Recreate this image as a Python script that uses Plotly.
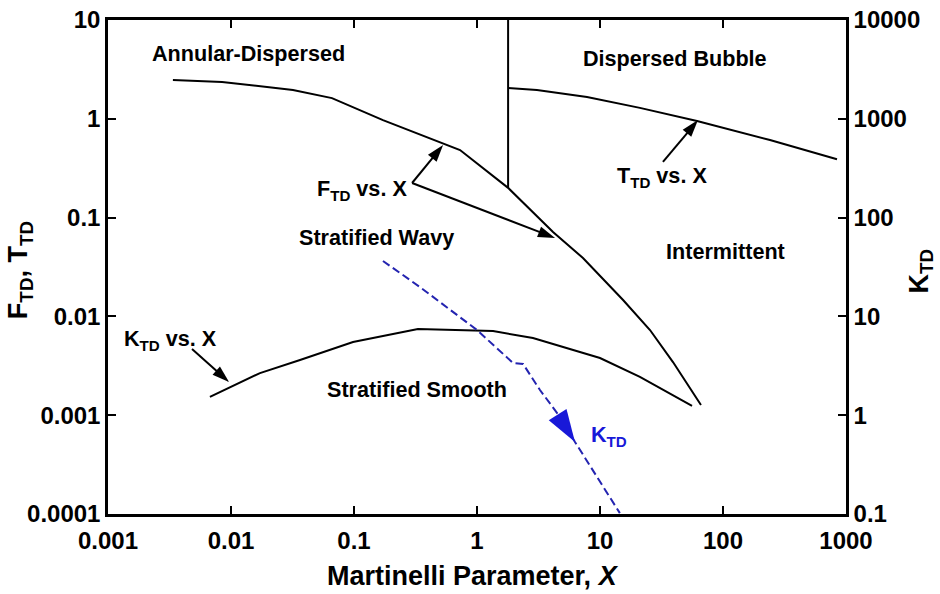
import math
import plotly.graph_objects as go

# ---- data ----
ftd_x = [0.00337, 0.00846, 0.0319, 0.0662, 0.172, 0.53, 0.728, 1.79, 4.15, 7.27, 15.4, 25.5, 39.2, 66.2]
ftd_y = [2.47, 2.36, 1.96, 1.62, 0.97, 0.569, 0.483, 0.200, 0.0714, 0.039, 0.01466, 0.00728, 0.00345, 0.00127]

ttd_x = [1.79, 3.07, 7.84, 21.1, 61.5, 241, 845]
ttd_y = [2.05, 1.96, 1.66, 1.29, 0.95, 0.61, 0.39]

ktd_x = [0.00674, 0.0172, 0.0364, 0.0982, 0.331, 1.35, 2.85, 10.0, 21.1, 56.0]
ktd_y = [1.53, 2.67, 3.62, 5.51, 7.45, 7.11, 6.04, 3.79, 2.44, 1.24]

kdash_x = [0.172, 0.344, 1.0, 1.96, 2.37, 3.25, 4.73, 6.26, 14.5]
kdash_y = [36.4, 19.8, 7.28, 3.38, 3.30, 1.80, 0.96, 0.536, 0.102]

boundary_x = [1.79, 1.79]
boundary_y = [0.2, 10]

x_ticks = [0.001, 0.01, 0.1, 1, 10, 100, 1000]
x_ticktext = ["0.001", "0.01", "0.1", "1", "10", "100", "1000"]
y_ticks = [0.0001, 0.001, 0.01, 0.1, 1, 10]
y_ticktext = ["0.0001", "0.001", "0.01", "0.1", "1", "10"]
y2_ticks = [0.1, 1, 10, 100, 1000, 10000]
y2_ticktext = ["0.1", "1", "10", "100", "1000", "10000"]

FONT = "Liberation Sans, Arial, sans-serif"
BLUE_LINE = "#2424b0"
BLUE = "#1818d8"
L = math.log10

fig = go.Figure()
line_style = dict(color="black", width=2)
fig.add_trace(go.Scatter(x=ftd_x, y=ftd_y, mode="lines", line=line_style, showlegend=False))
fig.add_trace(go.Scatter(x=ttd_x, y=ttd_y, mode="lines", line=line_style, showlegend=False))
fig.add_trace(go.Scatter(x=boundary_x, y=boundary_y, mode="lines", line=line_style, showlegend=False))
fig.add_trace(go.Scatter(x=ktd_x, y=ktd_y, mode="lines", line=line_style, yaxis="y2", showlegend=False))
fig.add_trace(go.Scatter(x=kdash_x, y=kdash_y, mode="lines",
                         line=dict(color=BLUE_LINE, width=2, dash="8px,4px"),
                         yaxis="y2", showlegend=False))

# pointer arrows (tail -> tip), drawn as short lines ending in an arrow marker
def arrow(x0, y0, x1, y1, color="black", head=18, width=2, yaxis="y", draw_line=True):
    fig.add_trace(go.Scatter(
        x=[x0, x1], y=[y0, y1], yaxis=yaxis, showlegend=False, hoverinfo="skip",
        mode="lines+markers" if draw_line else "markers",
        line=dict(color=color, width=width),
        marker=dict(symbol="arrow", size=[0, head], angleref="previous", color=color,
                    opacity=1, line=dict(width=0))))

arrow(0.2966, 0.224, 0.53, 0.543)
arrow(0.2966, 0.224, 4.31, 0.0622)
arrow(32.5, 0.366, 62.6, 0.97)
arrow(0.00482, 0.00468, 0.00964, 0.00217)
arrow(4.15, 1.20, 6.26, 0.536, color=BLUE, head=34, yaxis="y2", draw_line=False)

ann = []
def label(text, x, y, color="black", size=21.6, yref="y"):
    ann.append(dict(text="<b>" + text + "</b>", x=L(x), y=L(y), xref="x", yref=yref, showarrow=False,
                    font=dict(family=FONT, size=size, color=color), xanchor="center", yanchor="middle"))

label("Annular-Dispersed", 0.014, 4.63)
label("Dispersed Bubble", 40.7, 4.12)
label("F<sub>TD</sub> vs. X", 0.116, 0.19)
label("T<sub>TD</sub> vs. X", 31.9, 0.255)
label("Stratified Wavy", 0.151, 0.0622)
label("Intermittent", 104, 0.0449)
label("K<sub>TD</sub> vs. X", 0.00325, 0.0058)
label("Stratified Smooth", 0.325, 0.00184)
label("K<sub>TD</sub>", 11.8, 0.62, color=BLUE, yref="y2")

# axis titles
ann.append(dict(text="<b>Martinelli Parameter, <i>X</i></b>", xref="paper", yref="paper",
                x=0.495, y=-0.1255, showarrow=False, xanchor="center", yanchor="middle",
                font=dict(family=FONT, size=27, color="black")))
ann.append(dict(text="<b>F<sub>TD</sub>, T<sub>TD</sub></b>", xref="paper", yref="paper",
                x=-0.119, y=0.494, textangle=-90, showarrow=False, xanchor="center", yanchor="middle",
                font=dict(family=FONT, size=27, color="black")))
ann.append(dict(text="<b>K<sub>TD</sub></b>", xref="paper", yref="paper",
                x=1.101, y=0.492, textangle=-90, showarrow=False, xanchor="center", yanchor="middle",
                font=dict(family=FONT, size=27, color="black")))

axis_common = dict(type="log", ticks="inside", ticklen=8, tickwidth=1.5, tickcolor="black",
                   showline=True, linewidth=2.5, linecolor="black", showgrid=False, zeroline=False,
                   automargin=False,
                   tickfont=dict(family=FONT, size=24, color="black", weight="bold"))

fig.update_layout(
    width=940, height=594,
    margin=dict(l=108, r=94, t=20, b=80),
    plot_bgcolor="white", paper_bgcolor="white",
    xaxis=dict(axis_common, range=[-3, 3], tickvals=x_ticks, ticktext=x_ticktext, mirror="ticks",
               ticklabelstandoff=3),
    yaxis=dict(axis_common, range=[-4, 1], tickvals=y_ticks, ticktext=y_ticktext, mirror=True),
    yaxis2=dict(axis_common, range=[-1, 4], tickvals=y2_ticks, ticktext=y2_ticktext, overlaying="y",
                side="right"),
    annotations=ann,
)

fig.write_html("out.html")
